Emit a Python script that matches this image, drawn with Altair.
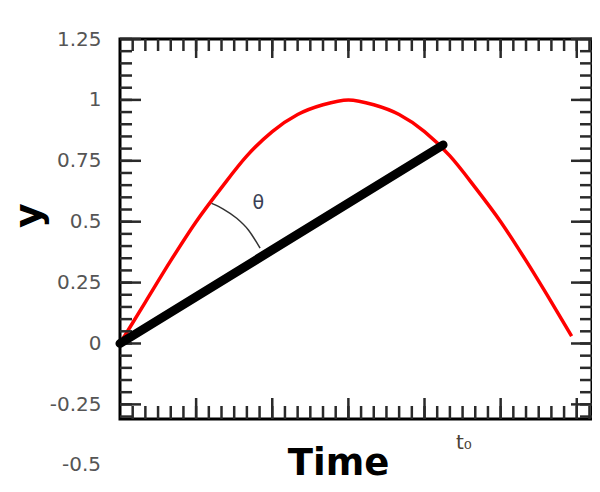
import altair as alt
import pandas as pd
import numpy as np

# Red curve (x in degrees)
curve_x = [0, 10, 20, 30, 40, 50, 60, 70, 80, 90, 100, 110, 120, 130, 140, 150, 160, 170, 178]
curve_y = [0.0, 0.17, 0.34, 0.5, 0.64, 0.77, 0.87, 0.94, 0.98, 1.0, 0.98, 0.94, 0.87, 0.77, 0.64, 0.5, 0.34, 0.17, 0.03]

# Black chord from origin to t0
chord_x = [0, 127.3]
chord_y = [0.0, 0.815]

# Theta arc
arc_x = [36.1, 40.7, 46.0, 50.6, 55.2]
arc_y = [0.575, 0.552, 0.514, 0.466, 0.391]

# Labels
theta_label = {"x": [54.5], "y": [0.578], "t": ["θ"]}
t0_label = {"x": [135.5], "y": [-0.41], "t": ["t₀"]}
extra_ytick = {"y": [-0.5], "t": ["-0.5"]}

y_ticks = [-0.25, 0, 0.25, 0.5, 0.75, 1, 1.25]
x_major = [30, 60, 90, 120, 150, 180]
x_minor = [v for v in range(5, 187, 5)]
y_minor = [round(v, 2) for v in np.arange(-0.30, 1.2501, 0.05)]
y_major = y_ticks

W, H = 472, 380
XD = [0, 186]
YD = [-0.31, 1.25]

xs = alt.Scale(domain=XD, nice=False, zero=False)
ys = alt.Scale(domain=YD, nice=False, zero=False)

curve_df = pd.DataFrame({"x": curve_x, "y": curve_y})
chord_df = pd.DataFrame({"x": chord_x, "y": chord_y})
arc_df = pd.DataFrame({"x": arc_x, "y": arc_y, "o": range(len(arc_x))})

xaxis = alt.Axis(title="Time", labels=False, ticks=False, domain=False, grid=False,
                 titleFontSize=37, titleFontWeight="bold", titleFont="DejaVu Sans",
                 titleColor="black", titleX=218, titleY=55, titleBaseline="alphabetic",
                 titleAlign="center")
yaxis = alt.Axis(title="y", values=y_ticks, labelExpr="toString(datum.value)",
                 ticks=False, domain=False, grid=False, labelPadding=19,
                 labelFontSize=20, labelFont="DejaVu Sans", labelColor="#555555",
                 titleFontSize=38, titleFontWeight="bold", titleFont="DejaVu Sans",
                 titleColor="black", titleX=-80, titleY=176, titleAngle=270,
                 titleAlign="center", titleBaseline="alphabetic")

base_curve = alt.Chart(curve_df).mark_line(color="red", strokeWidth=3.5, interpolate="monotone").encode(
    x=alt.X("x:Q", scale=xs, axis=xaxis),
    y=alt.Y("y:Q", scale=ys, axis=yaxis),
)

chord = alt.Chart(chord_df).mark_line(color="black", strokeWidth=9, strokeCap="round").encode(
    x=alt.X("x:Q", scale=xs), y=alt.Y("y:Q", scale=ys))

arc = alt.Chart(arc_df).mark_line(color="#333333", strokeWidth=1.5, interpolate="monotone").encode(
    x=alt.X("x:Q", scale=xs), y=alt.Y("y:Q", scale=ys), order="o:Q")

theta = alt.Chart(pd.DataFrame(theta_label)).mark_text(fontSize=19, font="DejaVu Sans", color="#3a3f55").encode(
    x=alt.X("x:Q", scale=xs), y=alt.Y("y:Q", scale=ys), text="t:N")

t0 = alt.Chart(pd.DataFrame(t0_label)).mark_text(fontSize=20, font="DejaVu Sans", color="#4a4236").encode(
    x=alt.X("x:Q", scale=xs), y=alt.Y("y:Q", scale=ys), text="t:N")

ylab = alt.Chart(pd.DataFrame(extra_ytick)).mark_text(fontSize=20, font="DejaVu Sans", color="#555555",
                                                    align="right", baseline="middle").encode(
    x=alt.value(-19), y=alt.Y("y:Q", scale=ys), text="t:N")

tick_col = "#2a2a2a"
ym_df = pd.DataFrame({"v": y_minor})
yM_df = pd.DataFrame({"v": y_major})
xm_df = pd.DataFrame({"v": x_minor})
xM_df = pd.DataFrame({"v": x_major})

def yt(df, x1, x2):
    return alt.Chart(df).mark_rule(color=tick_col, strokeWidth=2.5).encode(
        y=alt.Y("v:Q", scale=ys), x=alt.value(x1), x2=alt.value(x2))

def xt(df, y1, y2):
    return alt.Chart(df).mark_rule(color=tick_col, strokeWidth=2.5).encode(
        x=alt.X("v:Q", scale=xs), y=alt.value(y1), y2=alt.value(y2))

ticks = [
    yt(ym_df, 0, 12), yt(yM_df, 0, 21),
    yt(ym_df, W, W - 12), yt(yM_df, W, W - 21),
    xt(xm_df, H, H - 13), xt(xM_df, H, H - 21),
    xt(xm_df, 0, 12), xt(xM_df, 0, 19),
]

chart = alt.layer(base_curve, *ticks, arc, chord, theta, t0, ylab).properties(
    width=W, height=H,
    background="white",
    autosize=alt.AutoSizeParams(type="none"),
    padding={"left": 112, "top": 31, "right": 0, "bottom": 64},
).configure_view(stroke="black", strokeWidth=3)

chart.save("out.html", embed_options={"renderer": "svg", "actions": False})
